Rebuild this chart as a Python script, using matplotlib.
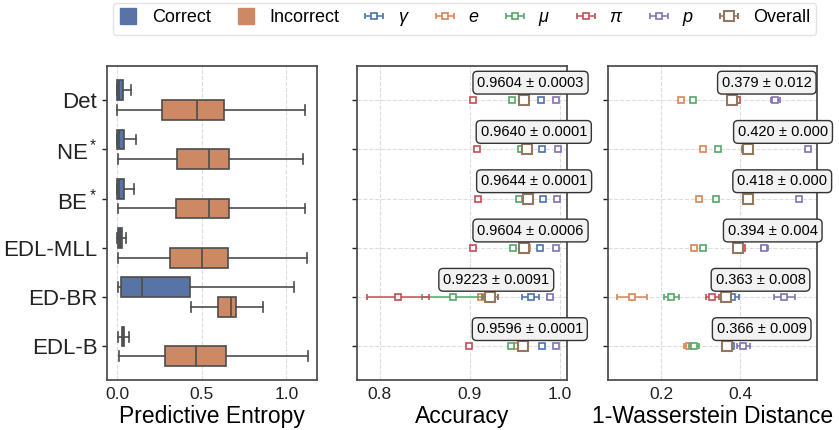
import matplotlib
matplotlib.use('Agg')
import matplotlib.pyplot as plt
from matplotlib.lines import Line2D
import numpy as np

plt.rcParams['font.family'] = ['Liberation Sans', 'DejaVu Sans']
plt.rcParams['mathtext.fontset'] = 'custom'
plt.rcParams['mathtext.it'] = 'Liberation Sans:italic'
plt.rcParams['mathtext.rm'] = 'Liberation Sans'

# ---- data ----
methods = ['Det', 'NE$^*$', 'BE$^*$', 'EDL-MLL', 'ED-BR', 'EDL-B']

# predictive entropy box stats: (whislo, q1, med, q3, whishi)
entropy_correct = [
    (0.000, 0.000, 0.010, 0.034, 0.079),
    (0.000, 0.000, 0.012, 0.043, 0.109),
    (0.000, 0.000, 0.012, 0.040, 0.100),
    (0.000, 0.006, 0.015, 0.030, 0.051),
    (0.004, 0.020, 0.148, 0.431, 1.047),
    (0.004, 0.026, 0.035, 0.043, 0.069),
]
entropy_incorrect = [
    (0.000, 0.267, 0.474, 0.632, 1.107),
    (0.004, 0.352, 0.543, 0.658, 1.097),
    (0.004, 0.350, 0.543, 0.662, 1.111),
    (0.004, 0.310, 0.504, 0.652, 1.123),
    (0.435, 0.595, 0.674, 0.704, 0.864),
    (0.010, 0.281, 0.468, 0.644, 1.128),
]

params = ['$\\gamma$', '$e$', '$\\mu$', '$\\pi$', '$p$', 'Overall']

# accuracy per parameter (rows = methods, cols = params), and std
acc_mean = [
    [0.9792, 0.9610, 0.9468, 0.9033, 0.9963, 0.9604],
    [0.9807, 0.9665, 0.9572, 0.9078, 0.9978, 0.9640],
    [0.9814, 0.9650, 0.9550, 0.9097, 0.9967, 0.9644],
    [0.9784, 0.9640, 0.9487, 0.9040, 0.9963, 0.9604],
    [0.9680, 0.9125, 0.8810, 0.8204, 0.9888, 0.9223],
    [0.9800, 0.9524, 0.9460, 0.8996, 0.9963, 0.9596],
]
acc_std = [
    [0.0003, 0.0003, 0.0004, 0.0004, 0.0002, 0.0003],
    [0.0001, 0.0001, 0.0001, 0.0001, 0.0001, 0.0001],
    [0.0001, 0.0001, 0.0001, 0.0001, 0.0001, 0.0001],
    [0.0006, 0.0006, 0.0007, 0.0008, 0.0003, 0.0006],
    [0.0095, 0.0030, 0.0340, 0.0346, 0.0030, 0.0091],
    [0.0001, 0.0001, 0.0001, 0.0001, 0.0001, 0.0001],
]

# 1-Wasserstein distance per parameter
wd_mean = [
    [0.3900, 0.2490, 0.2800, 0.3916, 0.4886, 0.379],
    [0.4200, 0.3063, 0.3443, 0.4110, 0.5700, 0.420],
    [0.4180, 0.2954, 0.3380, 0.4180, 0.5477, 0.418],
    [0.4000, 0.2820, 0.3046, 0.4040, 0.4608, 0.394],
    [0.3790, 0.1266, 0.2245, 0.3290, 0.5114, 0.363],
    [0.3770, 0.2700, 0.2835, 0.3603, 0.4076, 0.366],
]
wd_std = [
    [0.004, 0.003, 0.006, 0.004, 0.012, 0.012],
    [0.000, 0.000, 0.000, 0.000, 0.000, 0.000],
    [0.000, 0.000, 0.000, 0.000, 0.000, 0.000],
    [0.002, 0.002, 0.003, 0.002, 0.008, 0.004],
    [0.017, 0.038, 0.019, 0.017, 0.026, 0.008],
    [0.004, 0.0135, 0.0127, 0.003, 0.0156, 0.009],
]

acc_labels = ['0.9604 ± 0.0003', '0.9640 ± 0.0001', '0.9644 ± 0.0001',
              '0.9604 ± 0.0006', '0.9223 ± 0.0091', '0.9596 ± 0.0001']
wd_labels = ['0.379 ± 0.012', '0.420 ± 0.000', '0.418 ± 0.000',
             '0.394 ± 0.004', '0.363 ± 0.008', '0.366 ± 0.009']

param_colors = ['#4C72B0', '#DD8452', '#55A868', '#C44E52', '#8172B3', '#937860']
box_colors = ['#5874a6', '#cd8963']

# ---- figure ----
fig = plt.figure(figsize=(8.39, 4.30), dpi=100)
ax_ent = fig.add_axes([0.1275, 0.1163, 0.2503, 0.7302])
ax_acc = fig.add_axes([0.4255, 0.1163, 0.2503, 0.7302])
ax_wd = fig.add_axes([0.7247, 0.1163, 0.2491, 0.7302])

rows = np.arange(len(methods))

for ax in (ax_ent, ax_acc, ax_wd):
    for sp in ax.spines.values():
        sp.set_color('#4a4a4a')
        sp.set_linewidth(1.25)
    ax.set_axisbelow(True)
    ax.tick_params(axis='x', length=0, labelsize=12.5, pad=5, colors='#222222')
    ax.tick_params(axis='y', length=3.5, width=1, colors='#222222', labelsize=16)
    ax.set_ylim(5.68, -0.69)
    ax.set_yticks(rows)

# predictive entropy boxplots
for stats, off, col in ((entropy_correct, -0.2, box_colors[0]),
                        (entropy_incorrect, 0.2, box_colors[1])):
    bxp = []
    for s in stats:
        bxp.append({'whislo': s[0], 'q1': s[1], 'med': s[2], 'q3': s[3],
                    'whishi': s[4], 'fliers': []})
    ax_ent.bxp(bxp, positions=rows + off, widths=0.4, vert=False,
               patch_artist=True, showfliers=False,
               boxprops=dict(facecolor=col, edgecolor='#4d4d4d', linewidth=1.2),
               medianprops=dict(color='#4d4d4d', linewidth=1.2),
               whiskerprops=dict(color='#4d4d4d', linewidth=1.2),
               capprops=dict(color='#4d4d4d', linewidth=1.2),
               capwidths=0.2)
ax_ent.set_xlim(-0.06, 1.18)
ax_ent.set_xticks([0.0, 0.5, 1.0])
ax_ent.set_xticklabels(['0.0', '0.5', '1.0'])
ax_ent.set_yticks(rows)
ax_ent.set_yticklabels(methods)
ax_ent.set_ylim(5.68, -0.69)
ax_ent.grid(axis='x', linestyle='--', color='#dddddd', linewidth=0.8)
ax_ent.grid(axis='y', visible=False)
ax_ent.set_xlabel('Predictive Entropy', fontsize=16.5, labelpad=2)


def draw_params(ax, means, stds, labels, dx_pt):
    handles = []
    for i in rows:
        for j, col in enumerate(param_colors):
            big = (j == len(param_colors) - 1)
            h = ax.errorbar(means[i][j], i, xerr=stds[i][j], fmt='s',
                            color=col, mfc='white', mec=col,
                            ms=7.5 if big else 4.6, mew=1.5 if big else 1.2,
                            elinewidth=1.1, capsize=2.5, capthick=1.1,
                            zorder=3 + j)
            if i == 0:
                handles.append(h)
        ax.annotate(labels[i], xy=(means[i][-1], i), xytext=(dx_pt, 12.5),
                    textcoords='offset points', ha='center', va='center',
                    fontsize=10.5, annotation_clip=False, zorder=10,
                    bbox=dict(boxstyle='round,pad=0.3', fc='#f2f2f2',
                              ec='#333333', lw=1.0))
    ax.grid(True, linestyle='--', color='#dddddd', linewidth=0.8)
    ax.set_yticklabels([])
    return handles


handles = draw_params(ax_acc, acc_mean, acc_std, acc_labels, 4.7)
ax_acc.set_xlim(0.7747, 1.0082)
ax_acc.set_xticks([0.8, 0.9, 1.0])
ax_acc.set_xlabel('Accuracy', fontsize=16.5, labelpad=2)

draw_params(ax_wd, wd_mean, wd_std, wd_labels, 25)
ax_wd.set_xlim(0.0648, 0.594)
ax_wd.set_xticks([0.2, 0.4])
ax_wd.set_xlabel('1-Wasserstein Distance', fontsize=16.5, labelpad=2)

for ax in (ax_acc, ax_wd):
    ax.set_ylim(5.68, -0.69)

# legend
box_handles = [Line2D([], [], marker='s', linestyle='none', ms=11,
                      mfc=c, mec=c) for c in box_colors]
fig.legend(box_handles + handles, ['Correct', 'Incorrect'] + params,
           loc='center', bbox_to_anchor=(0.5537, 0.956), ncol=8,
           fontsize=13, frameon=True, fancybox=True, edgecolor='#dddddd',
           handlelength=1.0, handletextpad=0.8, columnspacing=1.45,
           borderpad=0.35)

fig.savefig('out.png', dpi=100)
